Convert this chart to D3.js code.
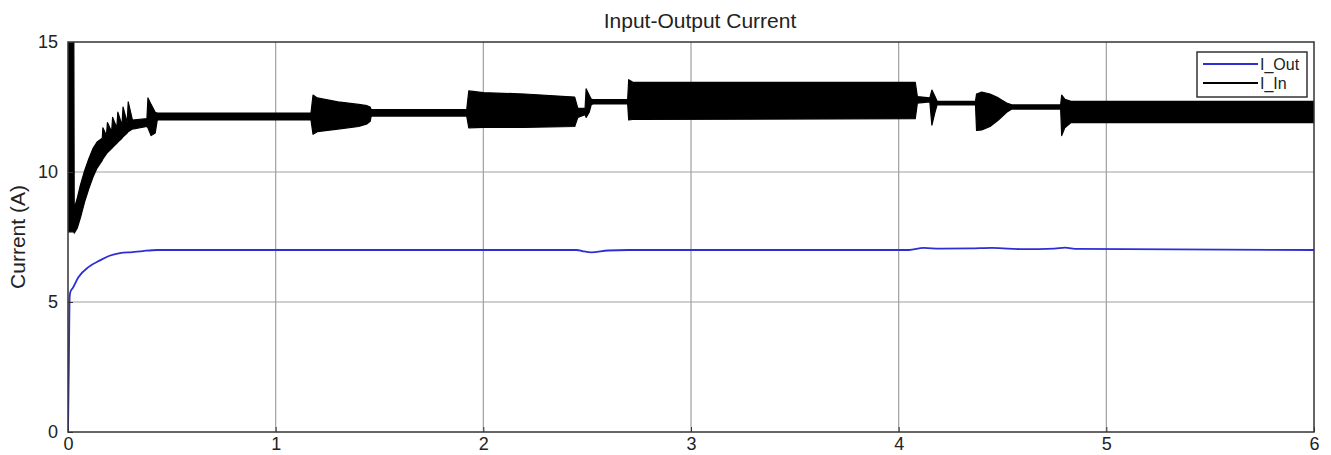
<!DOCTYPE html>
<html>
<head>
<meta charset="utf-8">
<script src="https://d3js.org/d3.v7.min.js"></script>
<style>
	body { margin: 0; background: #fff; }
	text { font-family: "Liberation Sans", Arial, sans-serif; fill: #222; }
</style>
</head>
<body>
<div id="chart"></div>
<script>
var chartTitle = "Input-Output Current";
var yLabel = "Current (A)";
var seriesNames = ["I_Out", "I_In"];
var xTicks = [0, 1, 2, 3, 4, 5, 6];
var yTicks = [0, 5, 10, 15];

// I_Out: time (s) and current (A)
var outTime = [0, 0.004, 0.008, 0.012, 0.024, 0.05, 0.1, 0.154, 0.2, 0.25, 0.31, 0.36, 0.43, 1.0, 1.5, 2.45, 2.48, 2.52, 2.6, 2.7, 4.05, 4.12, 4.2, 4.35, 4.45, 4.6, 4.75, 4.8, 4.86, 6.0];
var outValue = [0, 2.5, 5.2, 5.4, 5.55, 5.95, 6.35, 6.6, 6.78, 6.88, 6.92, 6.96, 7.0, 7.0, 7.0, 7.0, 6.95, 6.91, 6.98, 7.0, 7.0, 7.08, 7.05, 7.06, 7.08, 7.03, 7.05, 7.09, 7.04, 7.0];

// I_In: fast ripple, kept as its lower and upper envelope
var inTime = [0, 0.028, 0.030, 0.045, 0.06, 0.08, 0.10, 0.12, 0.14, 0.165, 0.168, 0.185, 0.19, 0.21, 0.215, 0.235, 0.24, 0.26, 0.265, 0.285, 0.29, 0.31, 0.38, 0.385, 0.40, 0.42, 0.43,
	1.17, 1.18, 1.20, 1.30, 1.40, 1.44, 1.455, 1.46,
	1.92, 1.93, 2.0, 2.2, 2.44, 2.455, 2.49, 2.495, 2.51, 2.52, 2.53, 2.695, 2.70, 2.72, 4.08, 4.09, 4.15, 4.16, 4.175, 4.185,
	4.37, 4.375, 4.40, 4.44, 4.48, 4.52, 4.545, 4.78, 4.785, 4.80, 4.83, 6.0];
var inLow = [7.7, 7.7, 7.65, 7.85, 8.25, 8.85, 9.35, 9.8, 10.15, 10.45, 10.5, 10.7, 10.75, 10.9, 10.95, 11.1, 11.15, 11.3, 11.35, 11.5, 11.55, 11.65, 11.75, 11.7, 11.4, 11.5, 12.0,
	12.0, 11.45, 11.55, 11.65, 11.75, 11.85, 11.95, 12.15,
	12.15, 11.7, 11.72, 11.72, 11.75, 12.1, 12.2, 12.1, 12.3, 12.6, 12.62, 12.62, 12.0, 12.02, 12.05, 12.65, 12.7, 11.8, 12.3, 12.58,
	12.58, 11.6, 11.62, 11.75, 12.0, 12.3, 12.42, 12.42, 11.4, 11.7, 11.9, 11.9];
var inHigh = [15.5, 15.5, 8.6, 9.0, 9.5, 10.05, 10.5, 10.9, 11.15, 11.3, 11.7, 11.4, 11.9, 11.55, 12.1, 11.7, 12.3, 11.8, 12.5, 11.9, 12.7, 12.0, 12.05, 12.85, 12.6, 12.3, 12.27,
	12.27, 12.96, 12.85, 12.7, 12.6, 12.55, 12.5, 12.4,
	12.4, 13.12, 13.05, 13.0, 12.88, 12.45, 12.45, 13.2, 12.95, 12.8, 12.78, 12.78, 13.55, 13.45, 13.45, 12.9, 12.85, 13.15, 12.9, 12.72,
	12.72, 13.0, 13.07, 13.0, 12.85, 12.65, 12.58, 12.58, 12.96, 12.8, 12.72, 12.72];

(function(){
	var width = 1331;
	var height = 455;
	var margin = {top: 42, right: 17, bottom: 23, left: 68};
	var w = width - margin.left - margin.right;
	var h = height - margin.top - margin.bottom;

	var svg = d3.select('#chart').append('svg')
		.attr('width', width)
		.attr('height', height);

	var g = svg.append('g')
		.attr('transform', 'translate(' + margin.left + ',' + margin.top + ')');

	var x = d3.scaleLinear().domain([0, 6]).range([0, w]);
	var y = d3.scaleLinear().domain([0, 15]).range([h, 0]);

	g.append('clipPath').attr('id', 'plot-clip')
		.append('rect').attr('width', w).attr('height', h);

	// grid
	g.selectAll('.gx')
		.data(xTicks.slice(1, -1))
		.enter().append('line')
		.attr('x1', d => x(d)).attr('x2', d => x(d))
		.attr('y1', 0).attr('y2', h)
		.attr('stroke', '#a0a0a0').attr('stroke-width', 1.2);
	g.selectAll('.gy')
		.data(yTicks.slice(1, -1))
		.enter().append('line')
		.attr('x1', 0).attr('x2', w)
		.attr('y1', d => y(d)).attr('y2', d => y(d))
		.attr('stroke', '#a0a0a0').attr('stroke-width', 1.2);

	var plot = g.append('g').attr('clip-path', 'url(#plot-clip)');

	var inData = inTime.map(function(t, i){ return {t: t, lo: inLow[i], hi: inHigh[i]}; });
	var band = d3.area()
		.x(d => x(d.t))
		.y0(d => y(d.lo))
		.y1(d => y(d.hi));
	plot.append('path')
		.datum(inData)
		.attr('d', band)
		.attr('fill', '#000')
		.attr('stroke', '#000')
		.attr('stroke-width', 1.2)
		.attr('stroke-linejoin', 'round');

	var outData = outTime.map(function(t, i){ return {t: t, v: outValue[i]}; });
	var line = d3.line()
		.x(d => x(d.t))
		.y(d => y(d.v))
		.curve(d3.curveMonotoneX);
	plot.append('path')
		.datum(outData)
		.attr('d', line)
		.attr('fill', 'none')
		.attr('stroke', '#2e2ed6')
		.attr('stroke-width', 1.8);

	// frame
	g.append('rect')
		.attr('width', w).attr('height', h)
		.attr('fill', 'none')
		.attr('stroke', '#333').attr('stroke-width', 1.5);

	// axes
	var xAxis = g.append('g')
		.attr('transform', 'translate(0,' + h + ')')
		.call(d3.axisBottom(x).tickValues(xTicks).tickSize(-5).tickPadding(5).tickFormat(d3.format('d')));
	var yAxis = g.append('g')
		.call(d3.axisLeft(y).tickValues(yTicks).tickSize(-5).tickPadding(10).tickFormat(d3.format('d')));
	[xAxis, yAxis].forEach(function(a){
		a.select('.domain').remove();
		a.selectAll('line').attr('stroke', '#333');
		a.selectAll('text')
			.attr('font-family', '"Liberation Sans", Arial, sans-serif')
			.attr('font-size', 18).attr('fill', '#222');
	});

	svg.append('text')
		.attr('x', 700).attr('y', 28)
		.attr('text-anchor', 'middle')
		.attr('font-size', 21)
		.text(chartTitle);

	svg.append('text')
		.attr('transform', 'translate(25,' + (margin.top + h / 2) + ') rotate(-90)')
		.attr('text-anchor', 'middle')
		.attr('font-size', 21)
		.text(yLabel);

	// legend
	var lg = svg.append('g').attr('transform', 'translate(1197,52)');
	lg.append('rect')
		.attr('width', 110).attr('height', 45)
		.attr('fill', '#fff').attr('stroke', '#333').attr('stroke-width', 1.5);
	var colors = ['#2e2ed6', '#000'];
	lg.selectAll('.item')
		.data(seriesNames)
		.enter().append('g')
		.attr('transform', (d, i) => 'translate(0,' + (12 + i * 19) + ')')
		.each(function(d, i){
			var it = d3.select(this);
			it.append('line')
				.attr('x1', 6).attr('x2', 61)
				.attr('stroke', colors[i]).attr('stroke-width', 1.8);
			it.append('text')
				.attr('x', 63).attr('dy', '0.35em')
				.attr('font-size', 16)
				.text(d);
		});
})();
</script>
</body>
</html>
